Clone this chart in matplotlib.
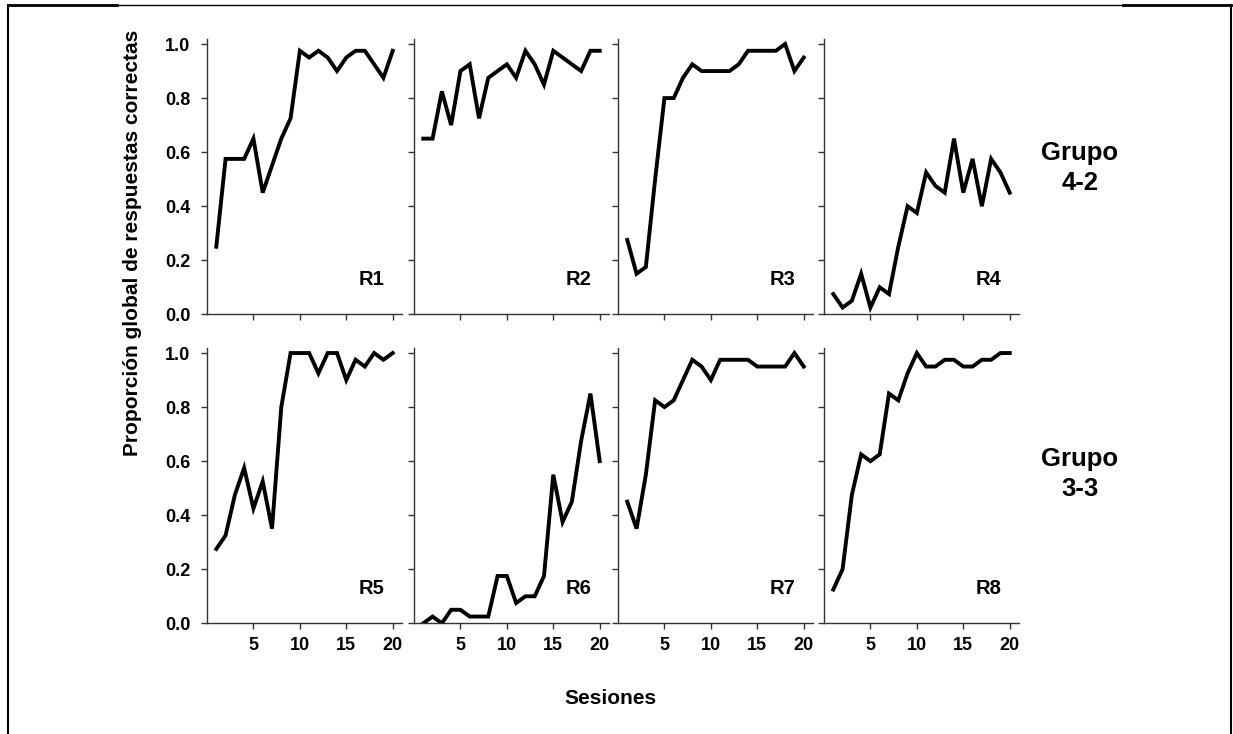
import numpy as np
import matplotlib.pyplot as plt
from matplotlib.lines import Line2D

plt.rcParams['font.family'] = ['Liberation Sans', 'DejaVu Sans']
plt.rcParams['font.weight'] = 'bold'

# sesiones 1..20
sesiones = np.arange(1, 21)

# proporcion global de respuestas correctas por rata
R1 = [0.25, 0.575, 0.575, 0.575, 0.65, 0.45, 0.55, 0.65, 0.725, 0.975,
      0.95, 0.975, 0.95, 0.90, 0.95, 0.975, 0.975, 0.925, 0.875, 0.975]
R2 = [0.65, 0.65, 0.825, 0.70, 0.90, 0.925, 0.725, 0.875, 0.90, 0.925,
      0.875, 0.975, 0.925, 0.85, 0.975, 0.95, 0.925, 0.90, 0.975, 0.975]
R3 = [0.275, 0.15, 0.175, 0.50, 0.80, 0.80, 0.875, 0.925, 0.90, 0.90,
      0.90, 0.90, 0.925, 0.975, 0.975, 0.975, 0.975, 1.0, 0.90, 0.95]
R4 = [0.075, 0.025, 0.05, 0.15, 0.025, 0.10, 0.075, 0.25, 0.40, 0.375,
      0.525, 0.475, 0.45, 0.65, 0.45, 0.575, 0.40, 0.575, 0.525, 0.45]
R5 = [0.275, 0.325, 0.475, 0.575, 0.425, 0.525, 0.35, 0.80, 1.0, 1.0,
      1.0, 0.925, 1.0, 1.0, 0.90, 0.975, 0.95, 1.0, 0.975, 1.0]
R6 = [0.0, 0.025, 0.0, 0.05, 0.05, 0.025, 0.025, 0.025, 0.175, 0.175,
      0.075, 0.10, 0.10, 0.175, 0.55, 0.375, 0.45, 0.675, 0.85, 0.60]
R7 = [0.45, 0.35, 0.55, 0.825, 0.80, 0.825, 0.90, 0.975, 0.95, 0.90,
      0.975, 0.975, 0.975, 0.975, 0.95, 0.95, 0.95, 0.95, 1.0, 0.95]
R8 = [0.125, 0.20, 0.475, 0.625, 0.60, 0.625, 0.85, 0.825, 0.925, 1.0,
      0.95, 0.95, 0.975, 0.975, 0.95, 0.95, 0.975, 0.975, 1.0, 1.0]

ratas = [R1, R2, R3, R4, R5, R6, R7, R8]
nombres = ['R1', 'R2', 'R3', 'R4', 'R5', 'R6', 'R7', 'R8']
grupos = ['Grupo\n4-2', 'Grupo\n3-3']

y_ticks = [0.0, 0.2, 0.4, 0.6, 0.8, 1.0]
x_ticks = [5, 10, 15, 20]

W, H = 1233, 734
fig = plt.figure(figsize=(W / 100, H / 100), dpi=100)

#posiciones de los paneles en pixeles
lefts = [207, 414, 618, 824]
bottoms = [314.3, 623.3]
ancho = 195
alto = 275

for i in range(8):
    fila = i // 4
    col = i % 4
    ax = fig.add_axes([lefts[col] / W, 1 - bottoms[fila] / H, ancho / W, alto / H])
    ax.plot(sesiones, ratas[i], color='black', lw=2.8, solid_joinstyle='miter')
    ax.set_xlim(0, 21)
    ax.set_ylim(0, 1.0175)
    ax.spines['top'].set_visible(False)
    ax.spines['right'].set_visible(False)
    for s in ['left', 'bottom']:
        ax.spines[s].set_linewidth(1.0)
        ax.spines[s].set_color('#333333')
    ax.set_xticks(x_ticks)
    ax.set_yticks(y_ticks)
    ax.tick_params(direction='out', length=4, width=1, color='#333333', labelsize=13)
    ax.tick_params(axis='y', pad=8)
    ax.tick_params(axis='x', pad=6)
    if col == 0:
        ax.set_yticklabels(['%.1f' % v for v in y_ticks], fontweight='bold')
    else:
        ax.set_yticklabels([])
    if fila == 1:
        ax.set_xticklabels([str(v) for v in x_ticks], fontweight='bold')
    else:
        ax.set_xticklabels([])
    ax.text(0.845, 0.125, nombres[i], transform=ax.transAxes, ha='center', va='center',
            fontsize=14.5, fontweight='bold')

fig.text(133 / W, 1 - 243 / H, 'Proporción global de respuestas correctas', rotation=90,
         ha='center', va='center', fontsize=15, fontweight='bold')
fig.text(610 / W, 1 - 698 / H, 'Sesiones', ha='center', va='center', fontsize=15, fontweight='bold')
fig.text(1080 / W, 1 - 168 / H, grupos[0], ha='center', va='center', fontsize=18.5, fontweight='bold',
         linespacing=1.35)
fig.text(1080 / W, 1 - 474 / H, grupos[1], ha='center', va='center', fontsize=18.5, fontweight='bold',
         linespacing=1.35)

#marco alrededor de la figura
def linea(x0, y0, x1, y1, lw):
    fig.add_artist(Line2D([x0 / W, x1 / W], [1 - y0 / H, 1 - y1 / H], color='black', lw=lw,
                          transform=fig.transFigure))

linea(7.5, 4.5, 1231, 4.5, 1.0)
linea(7.5, 4.5, 117, 4.5, 2.0)
linea(1123, 4.5, 1231, 4.5, 2.0)
linea(7.5, 4.5, 7.5, 734, 1.5)
linea(1231, 4.5, 1231, 734, 1.5)

fig.savefig('out.png', dpi=100)
